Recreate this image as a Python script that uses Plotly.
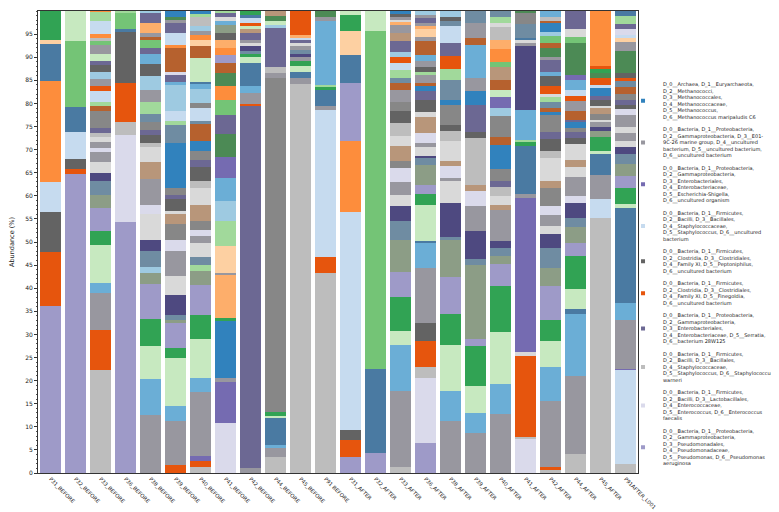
import plotly.graph_objects as go

samples = ["P31_BEFORE", "P32_BEFORE", "P33_BEFORE", "P36_BEFORE", "P38_BEFORE", "P39_BEFORE",
           "P40_BEFORE", "P41_BEFORE", "P42_BEFORE", "P44_BEFORE", "P45_BEFORE", "P91 BEFORE",
           "P31_AFTER", "P32_AFTER", "P33_AFTER", "P36_AFTER", "P38_AFTER", "P39_AFTER",
           "P40_AFTER", "P41_AFTER", "P42_AFTER", "P44_AFTER", "P45_AFTER", "P91AFTER_L001"]

y_ticks = list(range(0, 100, 5))

# taxon group code of each segment (bottom -> top) and its abundance (%)
tax_P31_BEFORE = "LFPUodqg"
ab_P31_BEFORE = [36.2, 11.6, 8.8, 6.4, 21.8, 8.1, 0.9, 6.2]
tax_P32_BEFORE = "LFPUdhj"
ab_P32_BEFORE = [64.8, 1.0, 2.2, 5.8, 5.4, 14.2, 6.6]
tax_P33_BEFORE = "WFGbjgLaknlGEGlWymriUFGcPyjGhWoUio"
ab_P33_BEFORE = [22.2, 8.7, 8.0, 2.2, 8.3, 2.9, 5.1, 2.8, 2.9, 1.9, 2.3, 2.1, 0.9, 1.3, 1.1, 0.9, 1.1,
                 3.6, 1.2, 0.7, 2.4, 1.2, 1.5, 1.6, 1.5, 0.7, 1.7, 1.8, 0.8, 0.8, 0.8, 2.8, 2.0, 0.2]
tax_P36_BEFORE = "LEWFPdhi"
ab_P36_BEFORE = [54.3, 18.9, 2.8, 8.4, 11.1, 0.5, 3.6, 0.4]
tax_P38_BEFORE = "GbjgLacknlEGtlWPymkiGcPbyhrGpyc"
ab_P38_BEFORE = [12.6, 7.8, 7.0, 6.0, 7.5, 2.4, 1.2, 3.5, 2.5, 5.6, 2.0, 5.6, 3.6, 3.2, 0.9, 1.8,
                 1.0, 1.8, 1.7, 2.6, 2.7, 3.0, 2.5, 2.2, 1.4, 1.7, 0.5, 0.9, 2.2, 2.2, 0.4]
tax_P39_BEFORE = "FGbjgLaknlGEmtlPymMkiUcbyEroUyGeM"
ab_P39_BEFORE = [1.7, 9.5, 3.2, 10.5, 2.2, 5.4, 0.7, 1.1, 4.2, 4.1, 5.4, 2.5, 3.3, 2.3, 0.7, 2.6, 0.8,
                 1.5, 9.7, 4.0, 0.7, 2.2, 5.6, 0.7, 1.6, 0.7, 5.2, 0.6, 2.5, 2.2, 0.7, 0.7, 1.2]
tax_P40_BEFORE = "WFXGbjgLaiklGEmtlWPymMrkUmcbdjrqoGcWiM"
ab_P40_BEFORE = [1.4, 1.1, 1.1, 13.9, 3.1, 8.3, 5.2, 6.5, 3.2, 1.3, 1.6, 3.1, 1.4, 1.3, 2.0, 3.6, 3.6,
                 1.4, 3.1, 1.6, 1.8, 2.3, 3.6, 0.6, 2.9, 1.1, 3.0, 1.0, 0.6, 5.1, 2.7, 1.2, 1.0, 1.0,
                 1.0, 1.9, 0.8, 0.6]
tax_P41_BEFORE = "EXGMgpGqicbXeyhoerLopPablyi"
ab_P41_BEFORE = [10.8, 9.0, 0.7, 12.5, 0.5, 9.4, 0.4, 5.8, 5.4, 4.4, 5.0, 4.6, 4.9, 4.0, 3.4, 2.9,
                 2.9, 2.2, 1.7, 1.6, 1.7, 1.4, 1.7, 0.9, 0.9, 0.9, 0.4]
tax_P42_BEFORE = "GyFGbdjgknlGytjFUdg"
ab_P42_BEFORE = [1.1, 78.3, 0.5, 2.4, 1.4, 5.0, 1.3, 0.7, 0.7, 1.1, 0.6, 0.7, 1.4, 0.8, 0.7, 0.7,
                 1.1, 0.7, 0.8]
tax_P44_BEFORE = "WGbdjgmGWycjet"
ab_P44_BEFORE = [3.4, 2.0, 0.7, 5.7, 0.5, 0.9, 72.3, 1.1, 1.2, 8.5, 0.7, 0.9, 1.1, 1.0]
tax_P45_BEFORE = "WGdjgGnkGlyUpF"
ab_P45_BEFORE = [84.1, 1.3, 1.3, 1.3, 1.2, 0.9, 0.6, 0.9, 0.9, 0.6, 0.7, 0.5, 0.4, 5.3]
tax_P91_BEFORE = "WFUGdgibGe"
ab_P91_BEFORE = [43.3, 3.4, 31.9, 0.9, 3.5, 0.5, 0.5, 13.9, 0.7, 1.4]
tax_P31_AFTER = "LFPUoLdqgj"
ab_P31_AFTER = [3.4, 3.8, 2.2, 47.1, 15.3, 12.6, 6.0, 5.2, 3.5, 0.9]
tax_P32_AFTER = "Ldhj"
ab_P32_AFTER = [4.3, 18.3, 73.0, 4.4]
tax_P33_AFTER = "WGbjgLaknlGEmtlWPmGrkiUFcytGplGPM"
ab_P33_AFTER = [1.4, 16.3, 9.9, 3.2, 7.2, 5.5, 7.0, 4.1, 3.1, 2.5, 2.7, 3.1, 1.6, 3.1, 2.2, 2.9,
                2.6, 2.0, 2.6, 1.4, 1.1, 1.8, 1.4, 1.3, 1.1, 2.5, 1.6, 1.7, 0.7, 0.5, 0.7, 0.5, 0.7]
tax_P36_AFTER = "LEWFPGbdjgLaknlGEtlPyMrGiPGbrGqpGyGc"
ab_P36_AFTER = [6.5, 14.1, 2.3, 5.6, 4.0, 11.9, 5.5, 0.4, 7.8, 2.3, 2.0, 4.2, 1.6, 0.5, 1.8, 0.9,
                2.2, 3.4, 1.1, 2.7, 1.8, 1.2, 0.6, 1.8, 0.6, 1.0, 1.3, 1.4, 2.9, 0.9, 1.7, 0.7,
                0.7, 1.1, 0.6, 0.9]
tax_P38_AFTER = "GbjgLaknlGEtlWPmMkiFyUkPc"
ab_P38_AFTER = [11.3, 6.5, 10.0, 6.6, 8.0, 8.0, 0.6, 7.4, 4.7, 0.7, 2.6, 1.2, 4.3, 2.1, 1.4, 4.3,
                1.1, 4.3, 2.4, 2.7, 2.9, 3.6, 1.2, 0.9, 1.2]
tax_P39_AFTER = "GbjgLaknGEtWPyMGbrGk"
ab_P39_AFTER = [8.7, 4.3, 5.8, 8.6, 1.5, 16.2, 1.3, 5.9, 5.6, 3.1, 1.3, 10.2, 1.3, 5.9, 2.9, 2.9,
                7.2, 1.5, 3.2, 2.6]
tax_P40_AFTER = "GbjgLaknGtlWymMrmcXjrthopWlik"
ab_P40_AFTER = [12.8, 6.5, 11.2, 9.9, 4.8, 1.7, 1.9, 1.4, 6.8, 1.1, 1.8, 2.1, 1.1, 2.6, 5.4, 1.6,
                4.5, 1.7, 2.4, 1.5, 2.3, 2.7, 1.2, 2.8, 2.0, 2.7, 0.9, 1.2, 1.4]
tax_P41_AFTER = "EWFlXGdgibnGldkme"
ab_P41_AFTER = [7.4, 0.5, 17.4, 0.9, 33.3, 0.9, 10.3, 0.9, 0.5, 6.5, 13.8, 0.7, 0.7, 0.4, 3.0,
                2.4, 0.4]
tax_P42_AFTER = "WFGbjgLaknlGEmtlWPymMrkilFPbyGerhcMrWb"
ab_P42_AFTER = [0.7, 0.5, 14.3, 7.4, 5.6, 4.7, 7.2, 4.0, 4.4, 2.9, 1.7, 2.4, 2.1, 3.8, 1.6, 4.9,
                1.6, 2.6, 1.4, 3.6, 0.7, 1.0, 1.3, 0.9, 0.7, 1.7, 2.2, 0.9, 2.7, 0.5, 2.1, 0.9,
                1.5, 0.9, 2.0, 0.5, 0.7, 1.4]
tax_P44_AFTER = "WGbdjgLaknEGltlPymMyrGFUbXehly"
ab_P44_AFTER = [4.1, 17.0, 13.3, 1.2, 4.3, 7.0, 2.9, 3.4, 2.1, 3.1, 1.5, 4.1, 2.2, 1.6, 3.4, 1.3,
                1.3, 0.9, 1.3, 0.5, 1.9, 2.2, 0.9, 1.3, 2.3, 1.1, 6.9, 1.2, 1.7, 4.0]
tax_P45_AFTER = "WUGdjganGlmtlPyMUFegFo"
ab_P45_AFTER = [55.3, 4.1, 5.2, 4.5, 0.7, 2.9, 1.4, 0.9, 1.1, 0.4, 1.2, 1.2, 0.5, 1.4, 0.9, 1.6,
                0.7, 1.5, 1.1, 0.9, 0.6, 11.9]
tax_P91AFTER_L001 = "WUXGbdjgLaknlGlGEPymrkFPeGqUEyid"
ab_P91AFTER_L001 = [1.9, 20.5, 0.2, 10.6, 3.6, 20.6, 0.9, 3.3, 2.7, 2.5, 2.2, 1.6, 1.3, 1.6, 1.3,
                    2.7, 1.2, 0.9, 1.2, 1.2, 1.5, 1.4, 0.7, 0.9, 4.8, 2.0, 0.9, 0.6, 1.3, 1.0, 1.9, 0.9]

# legend taxa (top -> bottom) and their group codes
legend_taxa = [
    "D_0__Archaea, D_1__Euryarchaeota,<br>D_2__Methanococci,<br>D_3__Methanococcales,<br>D_4__Methanococcaceae,<br>D_5__Methanococcus,<br>D_6__Methanococcus maripaludis C6",
    "D_0__Bacteria, D_1__Proteobacteria,<br>D_2__Gammaproteobacteria, D_3__E01-<br>9C-26 marine group, D_4__uncultured<br>bacterium, D_5__uncultured bacterium,<br>D_6__uncultured bacterium",
    "D_0__Bacteria, D_1__Proteobacteria,<br>D_2__Gammaproteobacteria,<br>D_3__Enterobacteriales,<br>D_4__Enterobacteriaceae,<br>D_5__Escherichia-Shigella,<br>D_6__uncultured organism",
    "D_0__Bacteria, D_1__Firmicutes,<br>D_2__Bacilli, D_3__Bacillales,<br>D_4__Staphylococcaceae,<br>D_5__Staphylococcus, D_6__uncultured<br>bacterium",
    "D_0__Bacteria, D_1__Firmicutes,<br>D_2__Clostridia, D_3__Clostridiales,<br>D_4__Family XI, D_5__Peptoniphilus,<br>D_6__uncultured bacterium",
    "D_0__Bacteria, D_1__Firmicutes,<br>D_2__Clostridia, D_3__Clostridiales,<br>D_4__Family XI, D_5__Finegoldia,<br>D_6__uncultured bacterium",
    "D_0__Bacteria, D_1__Proteobacteria,<br>D_2__Gammaproteobacteria,<br>D_3__Enterobacteriales,<br>D_4__Enterobacteriaceae, D_5__Serratia,<br>D_6__bacterium 28W125",
    "D_0__Bacteria, D_1__Firmicutes,<br>D_2__Bacilli, D_3__Bacillales,<br>D_4__Staphylococcaceae,<br>D_5__Staphylococcus, D_6__Staphylococcus<br>warneri",
    "D_0__Bacteria, D_1__Firmicutes,<br>D_2__Bacilli, D_3__Lactobacillales,<br>D_4__Enterococcaceae,<br>D_5__Enterococcus, D_6__Enterococcus<br>faecalis",
    "D_0__Bacteria, D_1__Proteobacteria,<br>D_2__Gammaproteobacteria,<br>D_3__Pseudomonadales,<br>D_4__Pseudomonadaceae,<br>D_5__Pseudomonas, D_6__Pseudomonas<br>aeruginosa",
]
legend_codes = "MGXUPFyWEL"

palette = {
    "L": "#9e9ac8", "E": "#dadaeb", "W": "#bdbdbd", "y": "#6c6893", "F": "#e6550d",
    "P": "#636363", "U": "#c6dbef", "X": "#756bb1", "G": "#98979f", "M": "#3182bd",
    "o": "#fd8d3c", "p": "#fdae6b", "q": "#fdd0a2", "g": "#31a354", "h": "#74c476",
    "i": "#a1d99b", "j": "#c7e9c0", "b": "#6baed6", "c": "#9ecae1", "d": "#4a7aa2",
    "r": "#b6612e", "t": "#b8967a", "n": "#4e4980", "k": "#6f8ca2", "a": "#8c9d86",
    "l": "#d9d9d9", "m": "#878787", "e": "#4c8a55",
}

taxa_lists = [tax_P31_BEFORE, tax_P32_BEFORE, tax_P33_BEFORE, tax_P36_BEFORE, tax_P38_BEFORE,
              tax_P39_BEFORE, tax_P40_BEFORE, tax_P41_BEFORE, tax_P42_BEFORE, tax_P44_BEFORE,
              tax_P45_BEFORE, tax_P91_BEFORE, tax_P31_AFTER, tax_P32_AFTER, tax_P33_AFTER,
              tax_P36_AFTER, tax_P38_AFTER, tax_P39_AFTER, tax_P40_AFTER, tax_P41_AFTER,
              tax_P42_AFTER, tax_P44_AFTER, tax_P45_AFTER, tax_P91AFTER_L001]
ab_lists = [ab_P31_BEFORE, ab_P32_BEFORE, ab_P33_BEFORE, ab_P36_BEFORE, ab_P38_BEFORE,
            ab_P39_BEFORE, ab_P40_BEFORE, ab_P41_BEFORE, ab_P42_BEFORE, ab_P44_BEFORE,
            ab_P45_BEFORE, ab_P91_BEFORE, ab_P31_AFTER, ab_P32_AFTER, ab_P33_AFTER,
            ab_P36_AFTER, ab_P38_AFTER, ab_P39_AFTER, ab_P40_AFTER, ab_P41_AFTER,
            ab_P42_AFTER, ab_P44_AFTER, ab_P45_AFTER, ab_P91AFTER_L001]

for t, v in zip(taxa_lists, ab_lists):
    assert len(t) == len(v), (t, len(t), len(v))

fig = go.Figure()
n_levels = max(len(v) for v in ab_lists)
for k in range(n_levels):
    ys, cols = [], []
    for t, v in zip(taxa_lists, ab_lists):
        if k < len(v):
            ys.append(v[k])
            cols.append(palette[t[k]])
        else:
            ys.append(0)
            cols.append("#ffffff")
    fig.add_trace(go.Bar(x=samples, y=ys, marker=dict(color=cols, line=dict(width=0)),
                         showlegend=False, hoverinfo="skip"))

for i, (name, code) in enumerate(zip(legend_taxa, legend_codes)):
    fig.add_trace(go.Scatter(x=[samples[0]], y=[None], mode="markers", name=name,
                             legendgroup="g%d" % i,
                             marker=dict(symbol="square", size=4, color=palette[code]),
                             hoverinfo="skip"))

font_family = "DejaVu Sans"
fig.update_layout(
    width=779, height=512,
    margin=dict(l=30, r=149, t=3, b=47, autoexpand=False),
    barmode="stack", bargap=0.16,
    plot_bgcolor="white", paper_bgcolor="white",
    font=dict(family=font_family, size=6, color="#222222"),
    showlegend=True,
    legend=dict(xref="container", x=0.7895, xanchor="left",
                yref="paper", y=0.862, yanchor="top",
                font=dict(size=5.0, family=font_family, color="#222222"),
                bgcolor="rgba(0,0,0,0)", itemsizing="trace", traceorder="grouped",
                tracegroupgap=3),
)
fig.update_xaxes(type="category", range=[-0.5, len(samples) - 0.5], automargin=False,
                 tickangle=45, showline=True, linecolor="#333333", linewidth=1, mirror=True,
                 tickfont=dict(size=5.3), ticks="", showgrid=False)
fig.update_yaxes(range=[0, 100], tickvals=y_ticks, automargin=False, showline=True,
                 linecolor="#333333", linewidth=1, mirror=True, ticks="outside", ticklen=3,
                 tickcolor="#333333", tickfont=dict(size=6), showgrid=False, zeroline=False,
                 minor=dict(dtick=1, ticks="outside", ticklen=1.5, tickcolor="#555555"),
                 title=dict(text="Abundance (%)", font=dict(size=6.5), standoff=10))
fig.write_html("out.html")
